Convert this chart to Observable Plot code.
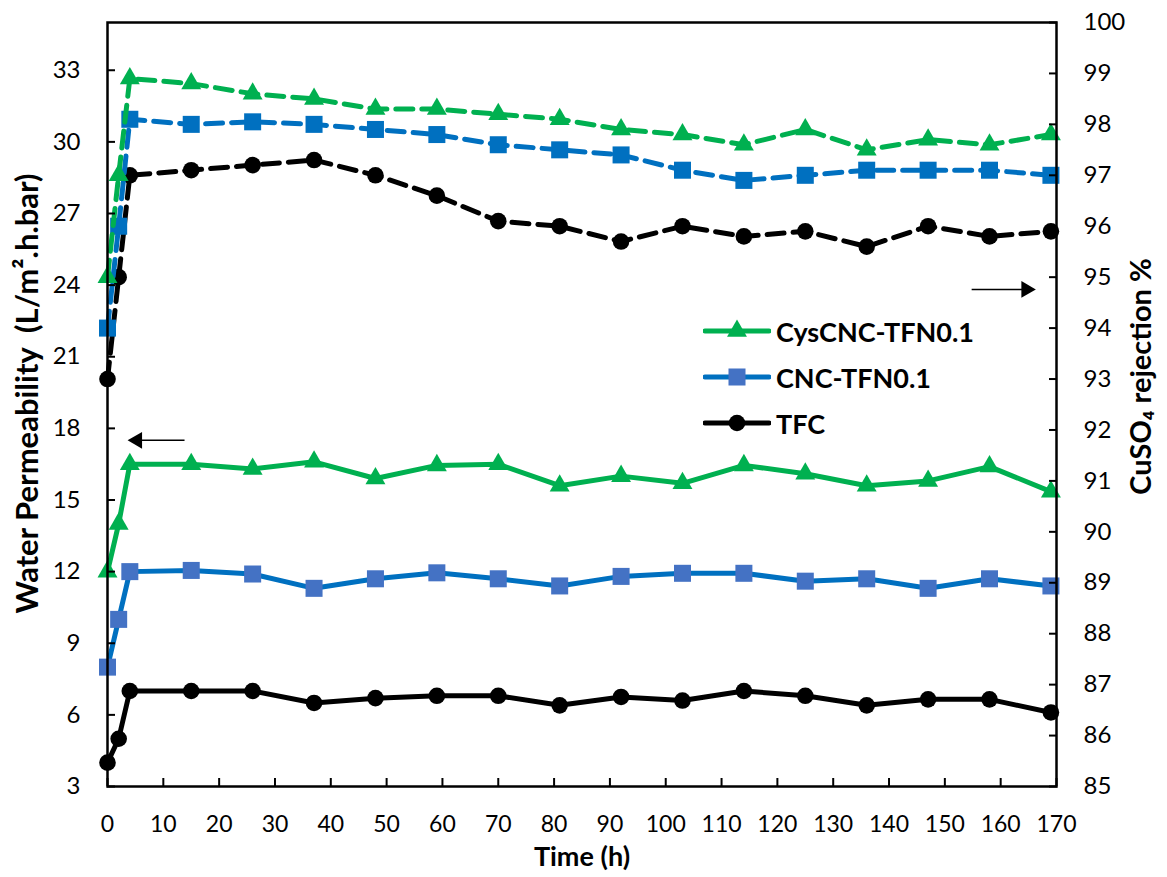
<!DOCTYPE html>
<html>
<head>
<meta charset="utf-8">
<script src="https://cdn.jsdelivr.net/npm/d3@7"></script>
<script src="https://cdn.jsdelivr.net/npm/@observablehq/plot@0.6"></script>
<style>
  body { margin: 0; background: #fff; }
  #wrap { position: relative; width: 1167px; height: 877px; font-family: Lato, "Open Sans", sans-serif; }
  #legend { position: absolute; left: 703px; top: 308px; }
  .row { display: flex; align-items: center; height: 46px; }
  .row span { font-weight: bold; font-size: 27px; margin-left: 5px; color: #000; line-height: 1; }
</style>
</head>
<body>
<div id="wrap"></div>
<script>
// ---------- data ----------
const time = [0, 2, 4, 15, 26, 37, 48, 59, 70, 81, 92, 103, 114, 125, 136, 147, 158, 169];
const seriesNames = ["CysCNC-TFN0.1", "CNC-TFN0.1", "TFC"];
// water permeability (left axis, L/m2.h.bar)
const permCysCNC = [12.0, 14.0, 16.5, 16.5, 16.3, 16.6, 15.9, 16.45, 16.5, 15.6, 16.0, 15.7, 16.45, 16.1, 15.6, 15.8, 16.4, 15.35];
const permCNC    = [8.0, 10.0, 12.0, 12.05, 11.9, 11.3, 11.7, 11.95, 11.7, 11.4, 11.8, 11.93, 11.93, 11.6, 11.7, 11.3, 11.7, 11.4];
const permTFC    = [4.0, 5.0, 7.0, 7.0, 7.0, 6.5, 6.7, 6.8, 6.8, 6.4, 6.75, 6.6, 7.0, 6.8, 6.4, 6.65, 6.65, 6.1];
// CuSO4 rejection (right axis, %)
const rejCysCNC  = [95.0, 97.0, 98.9, 98.8, 98.6, 98.5, 98.3, 98.3, 98.2, 98.1, 97.9, 97.8, 97.6, 97.9, 97.5, 97.7, 97.6, 97.8];
const rejCNC     = [94.0, 96.0, 98.1, 98.0, 98.05, 98.0, 97.9, 97.8, 97.6, 97.5, 97.4, 97.1, 96.9, 97.0, 97.1, 97.1, 97.1, 97.0];
const rejTFC     = [93.0, 95.0, 97.0, 97.1, 97.2, 97.3, 97.0, 96.6, 96.1, 96.0, 95.7, 96.0, 95.8, 95.9, 95.6, 96.0, 95.8, 95.9];
// axes
const xTicks = [0, 10, 20, 30, 40, 50, 60, 70, 80, 90, 100, 110, 120, 130, 140, 150, 160, 170];
const leftTicks = [3, 6, 9, 12, 15, 18, 21, 24, 27, 30, 33];
const rightTicks = [85, 86, 87, 88, 89, 90, 91, 92, 93, 94, 95, 96, 97, 98, 99, 100];
const leftDomain = [3, 35];
const rightDomain = [85, 100];
const xDomain = [0, 170];
// annotation arrows (data units): left one points to left axis, right one to right axis
const arrowLeft = {from: 13.8, to: 3.6, y: 17.5};       // left units
const arrowRight = {from: 154.8, to: 166.3, y: 94.76};  // right units
const xTitle = "Time (h)";
const yTitle = "Water Permeability  (L/m\u00B2.h.bar)";
const y2Title = "CuSO\u2084 rejection %";

// ---------- styles ----------
const green = "#00B050", blue = "#0070C0", blueMarker = "#4472C4", black = "#000000";
const styles = [
  {color: green, marker: green, dashMarker: green, symbol: "triangle", r: 7.4},
  {color: blue, marker: blueMarker, dashMarker: blue, symbol: "square", r: 9.6},
  {color: black, marker: black, dashMarker: black, symbol: "circle", r: 8.3}
];

// map right-axis values into left-axis units (shared y scale)
const r2l = d3.scaleLinear().domain(rightDomain).range(leftDomain);

const perm = [permCysCNC, permCNC, permTFC];
const rej = [rejCysCNC, rejCNC, rejTFC];
const permRows = perm.map((arr, s) => arr.map((v, i) => ({t: time[i], v, s})));
const rejRows = rej.map((arr, s) => arr.map((v, i) => ({t: time[i], v: r2l(v), s})));

const marks = [];
// draw order: TFC, CNC, CysCNC (green on top)
for (const s of [2, 1, 0]) {
  const st = styles[s];
  marks.push(Plot.line(rejRows[s], {x: "t", y: "v", stroke: st.color, strokeWidth: 5, strokeDasharray: "17,9"}));
  marks.push(Plot.dot(rejRows[s], {x: "t", y: "v", symbol: st.symbol, r: st.r, fill: st.dashMarker, stroke: "none"}));
}
for (const s of [2, 1, 0]) {
  const st = styles[s];
  marks.push(Plot.line(permRows[s], {x: "t", y: "v", stroke: st.color, strokeWidth: 5}));
  marks.push(Plot.dot(permRows[s], {x: "t", y: "v", symbol: st.symbol, r: st.r, fill: st.marker, stroke: "none"}));
}

// arrows
const headR = 6.2;
const xs = d3.scaleLinear().domain(xDomain).range([107, 1056]);
const headOffset = (1.555 * headR) / (xs(1) - xs(0)); // apex distance in x units
marks.push(Plot.link([arrowLeft], {x1: "from", x2: d => d.to + headOffset, y1: "y", y2: "y", stroke: "black", strokeWidth: 1.5}));
marks.push(Plot.dot([arrowLeft], {x: d => d.to + headOffset, y: "y", symbol: "triangle", r: headR, fill: "black", rotate: -90}));
marks.push(Plot.link([arrowRight], {x1: "from", x2: d => d.to - headOffset, y1: d => r2l(d.y), y2: d => r2l(d.y), stroke: "black", strokeWidth: 1.5}));
marks.push(Plot.dot([arrowRight], {x: d => d.to - headOffset, y: d => r2l(d.y), symbol: "triangle", r: headR, fill: "black", rotate: 90}));

// frame & axes
marks.push(Plot.frame({stroke: "black", strokeWidth: 2.5}));
// x axis: inward ticks, labels
marks.push(Plot.axisX({ticks: xTicks, tickSize: -8, tickFormat: () => "", label: null, strokeWidth: 2}));
marks.push(Plot.axisX({ticks: xTicks, tickSize: 0, tickPadding: 29, label: null, fontSize: 23}));
// left axis
marks.push(Plot.axisY({ticks: leftTicks, tickSize: -8, tickFormat: () => "", label: null, strokeWidth: 2}));
marks.push(Plot.axisY({ticks: leftTicks, tickSize: 0, tickPadding: 27, label: null, fontSize: 24}));
// right axis
marks.push(Plot.axisY({anchor: "right", ticks: rightTicks.map(r2l), tickSize: -8, tickFormat: () => "", label: null, strokeWidth: 2}));
marks.push(Plot.axisY({anchor: "right", ticks: rightTicks.map(r2l), tickSize: 0, tickPadding: 27, label: null, fontSize: 24,
  tickFormat: d => String(Math.round(r2l.invert(d)))}));
// axis titles
marks.push(Plot.text([xTitle], {text: d => d, frameAnchor: "bottom", textAnchor: "middle", dy: 79, fontWeight: "bold", fontSize: 27}));
marks.push(Plot.text([yTitle], {text: d => d, frameAnchor: "left", textAnchor: "middle", dx: -79, dy: -11, rotate: -90, fontWeight: "bold", fontSize: 31}));
marks.push(Plot.text([y2Title], {text: d => d, frameAnchor: "right", textAnchor: "middle", dx: 85, dy: -28, rotate: -90, fontWeight: "bold", fontSize: 29}));

const chart = Plot.plot({
  width: 1167,
  height: 877,
  marginLeft: 107,
  marginRight: 111,
  marginTop: 22,
  marginBottom: 91,
  style: {fontFamily: "Lato, 'Open Sans', sans-serif", fontSize: "24px", color: "#000", background: "#fff", overflow: "visible"},
  x: {domain: xDomain},
  y: {domain: leftDomain},
  marks
});
const wrap = document.getElementById("wrap");
wrap.appendChild(chart);

// legend (HTML overlay)
const legend = document.createElement("div");
legend.id = "legend";
seriesNames.forEach((name, s) => {
  const st = styles[s];
  const row = document.createElement("div");
  row.className = "row";
  const svg = d3.create("svg").attr("width", 68).attr("height", 24);
  svg.append("line").attr("x1", 2).attr("x2", 66).attr("y1", 12).attr("y2", 12)
    .attr("stroke", st.color).attr("stroke-width", 5).attr("stroke-linecap", "round");
  const sym = {triangle: d3.symbolTriangle, square: d3.symbolSquare, circle: d3.symbolCircle}[st.symbol];
  svg.append("path").attr("transform", "translate(34,12)")
    .attr("d", d3.symbol(sym, Math.PI * st.r * st.r)()).attr("fill", st.marker);
  row.appendChild(svg.node());
  const span = document.createElement("span");
  span.textContent = name;
  row.appendChild(span);
  legend.appendChild(row);
});
wrap.appendChild(legend);
</script>
</body>
</html>
